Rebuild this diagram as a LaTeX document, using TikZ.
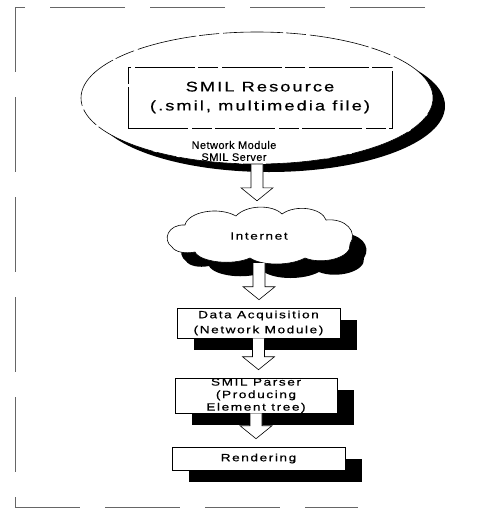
\documentclass[tikz,border=0pt]{standalone}
\usepackage{fontspec}
\setmainfont{Liberation Sans}
\newfontfamily\widefont[FakeStretch=1.3,LetterSpace=15,FakeBold=0.6]{Liberation Sans}
\newfontfamily\netfont[LetterSpace=4,FakeBold=0.3]{Liberation Sans}
\usepackage{tikz}
\usetikzlibrary{calc, positioning, shapes.geometric, shadows}

% 空心箭头
\newcommand{\fatarrow}[2]{%
  \draw[fat] let \p1=(#1.south), \p2=(#2.north) in
    (\x1-6pt,\y1) -- (\x1-6pt,\y2+21pt) -- (\x1-16pt,\y2+21pt)
    -- (\x1,\y2+8pt) -- (\x1+16pt,\y2+21pt) -- (\x1+6pt,\y2+21pt)
    -- (\x1+6pt,\y1);
}

% 云的轮廓
\newcommand{\cloudpath}{(172,247) .. controls (162,240) and (168,224) .. (185,225)
    .. controls (188,212) and (218,206) .. (236,216)
    .. controls (246,205) and (272,204) .. (282,214)
    .. controls (296,204) and (322,208) .. (326,220)
    .. controls (346,218) and (358,232) .. (350,244)
    .. controls (352,258) and (322,265) .. (305,258)
    .. controls (290,266) and (262,266) .. (250,258)
    .. controls (232,266) and (200,262) .. (195,252)
    .. controls (185,254) and (175,252) .. (172,247) -- cycle}

\begin{document}
\begin{tikzpicture}[x=1pt, y=-1pt,
    scan/.style={line width=0.6pt, dash pattern=on 60pt off 4pt on 20pt off 3pt},
    blackshadow/.style={drop shadow={shadow xshift=#1, shadow yshift=-12pt, fill=black, opacity=1}},
    stepbox/.style={draw, fill=white, line width=0.6pt, inner sep=0pt, align=center,
        blackshadow=17pt},
    fat/.style={draw, fill=white, line width=0.6pt, line join=miter}]
    \useasboundingbox (0,0) rectangle (502,509);

    % 外框
    \draw[scan, gray!80!black, dash pattern=on 75pt off 25pt] (425,7) -- (15,7) -- (15,507) -- (358,507);

    % 服务器
    \node[ellipse, draw, scan, fill=white, minimum width=352pt, minimum height=132pt,
        drop shadow={shadow xshift=12pt, shadow yshift=-8pt, fill=black, opacity=1}] (server) at (257,98) {};
    \node[draw, scan, minimum width=264pt, minimum height=61pt, align=center,
        font=\widefont\fontsize{14}{19}\selectfont] (resource) at (260,97.5)
        {SMIL Resource\\(.smil, multimedia file)};
    \node[align=center, font=\netfont\fontsize{11}{12}\selectfont] (srvlabel) at (234,151)
        {Network Module\\SMIL Server};

    % 网络
    \fill[shift={(14,14)}] \cloudpath;
    \draw[fill=white, line width=0.6pt] \cloudpath;
    \node[minimum width=180pt, minimum height=54pt, inner sep=0pt,
        font=\widefont\fontsize{10.5}{13}\selectfont] (inet) at (259,236) {Internet};

    % 处理步骤
    \node[stepbox, minimum width=163pt, minimum height=30pt,
        font=\widefont\fontsize{10.5}{15}\selectfont] (acq) at (258.5,323)
        {Data Acquisition\\(Network Module)};
    \node[stepbox, minimum width=162pt, minimum height=35pt,
        font=\widefont\fontsize{10.5}{12.5}\selectfont] (parser) at (256,395.5)
        {SMIL Parser\\(Producing\\Element tree)};
    \node[stepbox, minimum width=173pt, minimum height=23pt,
        font=\widefont\fontsize{10.5}{13}\selectfont] (render) at (258.5,458.5)
        {Rendering};

    % 箭头
    \fatarrow{server}{inet}
    \fatarrow{inet}{acq}
    \fatarrow{acq}{parser}
    \fatarrow{parser}{render}
\end{tikzpicture}
\end{document}
